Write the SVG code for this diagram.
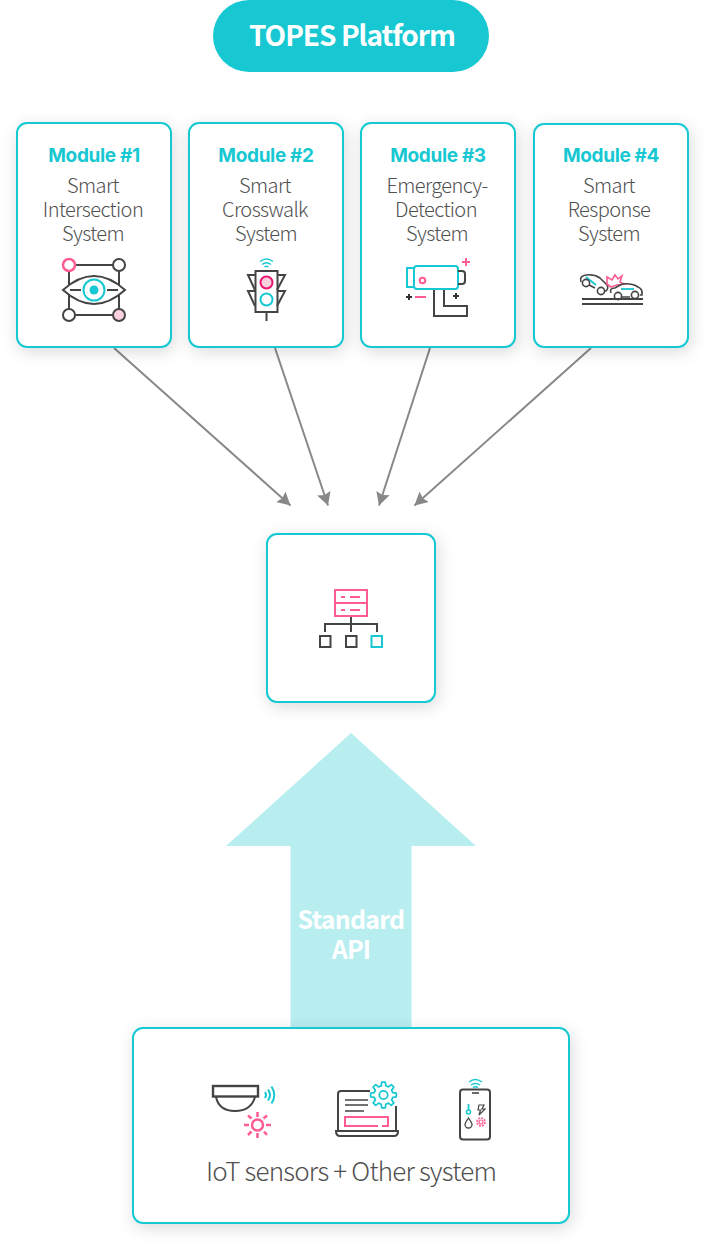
<svg xmlns="http://www.w3.org/2000/svg" width="713" height="1247" viewBox="0 0 713 1247">
<style>
.box{fill:#fff;stroke:#17c8d2;stroke-width:2;filter:url(#sh)}
.t{font-family:"Noto Sans CJK KR","Noto Sans",sans-serif;text-anchor:middle}
.mod{font-family:"Inter","Noto Sans",sans-serif;font-weight:700;font-size:19px;fill:#17c8d2;text-anchor:middle;letter-spacing:-.35px}
.sys{font-family:"Noto Sans CJK KR","Noto Sans",sans-serif;font-weight:300;font-size:20px;fill:#505050;text-anchor:middle;letter-spacing:-.6px}
.d{fill:none;stroke:#444;stroke-width:2}
.c{fill:none;stroke:#17c8d2;stroke-width:2}
.p{fill:none;stroke:#ff5c93;stroke-width:2}
.con{stroke:#888;stroke-width:2;fill:none;marker-end:url(#ah)}
</style>
<defs>
<filter id="sh" x="-20%" y="-20%" width="140%" height="140%"><feDropShadow dx="2" dy="4" stdDeviation="8" flood-color="#000" flood-opacity=".14"/></filter>
<marker id="ah" markerUnits="userSpaceOnUse" markerWidth="16" markerHeight="16" refX="13" refY="7" orient="auto"><path d="M0 0L13 7L0 14L2 7Z" fill="#888"/></marker>
</defs>
<rect width="713" height="1247" fill="#fff"/>
<g id="connectors">
<path class="con" d="M114 348L290.500 505.500"/>
<path class="con" d="M275 348L328 505.500"/>
<path class="con" d="M430 348L379 505.500"/>
<path class="con" d="M591 348L414.500 505.500"/>
</g>
<g id="platform">
<rect x="213" y="0" width="276" height="72" rx="36" fill="#17c8d2"/>
<text class="t" x="352" y="46" font-size="28" font-weight="700" fill="#fff" letter-spacing="-1">TOPES Platform</text>
</g>
<g id="module1">
<rect class="box" x="17" y="123" width="154" height="224" rx="10"/>
<text class="mod" x="94" y="162">Module #1</text>
<text class="sys" x="93" y="193">Smart</text><text class="sys" x="93" y="217">Intersection</text><text class="sys" x="93" y="241">System</text>
<path class="d" d="M75 265H113M119 271V309M113 315H75M69 309V271"/>
<path d="M63 290Q94 262 125 290Q94 318 63 290Z" fill="#fff" stroke="#444" stroke-width="2"/>
<path class="d" d="M70 290H81M107 290H118"/>
<circle cx="94" cy="290" r="10.500" class="c"/><circle cx="94" cy="290" r="4.500" fill="#17c8d2"/>
<circle cx="69" cy="265" r="6" fill="#fff" stroke="#ff5c93" stroke-width="2.500"/>
<circle cx="119" cy="265" r="6" fill="#fff" stroke="#444" stroke-width="2"/>
<circle cx="69" cy="315" r="6" fill="#fff" stroke="#444" stroke-width="2"/>
<circle cx="119" cy="315" r="6" fill="#fbd0de" stroke="#444" stroke-width="2"/>
</g>
<g id="module2">
<rect class="box" x="189" y="123" width="154" height="224" rx="10"/>
<text class="mod" x="266" y="162">Module #2</text>
<text class="sys" x="265" y="193">Smart</text><text class="sys" x="265" y="217">Crosswalk</text><text class="sys" x="266" y="241">System</text>
<path class="d" d="M255 275H248L255 290M255 291H248L255 306M277 275H285L277 290M277 291H285L277 306M266.500 312V321"/>
<rect class="d" x="255.500" y="271" width="22" height="41"/>
<circle cx="266.500" cy="282.500" r="6" fill="#f9cfdd" stroke="#e8156e" stroke-width="2"/>
<circle cx="266.500" cy="299.500" r="6" class="c"/>
<path d="M260 261.500Q266.500 256.500 273 261.500M262 264.500Q266.500 261 271 264.500M264.500 267Q266.500 265.500 268.500 267" fill="none" stroke="#17c8d2" stroke-width="1.400"/>
</g>
<g id="module3">
<rect class="box" x="361" y="123" width="154" height="224" rx="10"/>
<text class="mod" x="438" y="162">Module #3</text>
<text class="sys" x="437" y="193">Emergency-</text><text class="sys" x="436" y="217">Detection</text><text class="sys" x="437" y="241">System</text>
<path class="c" d="M414 268H407V287H414"/>
<rect class="c" x="414" y="266" width="44" height="23" rx="3"/>
<path class="d" d="M458 271H462Q465 271 465 274V281Q465 284 462 284H458"/>
<path class="d" d="M434 290V316H467V306H444V290"/>
<circle cx="422.500" cy="280.500" r="2.800" class="p"/>
<path d="M462 262H470M466 258V266M415 297H426" fill="none" stroke="#ff5c93" stroke-width="2"/>
<path d="M406 297H412M409 294V300M453 296H459M456 293V299" fill="none" stroke="#333" stroke-width="2"/>
</g>
<g id="module4">
<rect class="box" x="534" y="124" width="154" height="223" rx="10"/>
<text class="mod" x="611" y="162">Module #4</text>
<text class="sys" x="609" y="193">Smart</text><text class="sys" x="609" y="217">Response</text><text class="sys" x="609" y="241">System</text>
<path d="M581 282Q579 276 586 275Q594 274 600 278L607 285Q609 288 606 291H601M595 288L585 283" fill="none" stroke="#444" stroke-width="1.600"/>
<path d="M586 277L596 285" fill="none" stroke="#17c8d2" stroke-width="1.800"/>
<path d="M607 284L607 277L612 280L615 275L618 279L622 276L620 282L624 284L617 285L611 287Z" fill="none" stroke="#ff5c93" stroke-width="1.600"/>
<path d="M611 293Q609 288 615 288L622 284Q632 283 638 287Q643 289 642 295H640M630 297H621" fill="none" stroke="#444" stroke-width="1.600"/>
<path d="M621 289H634" fill="none" stroke="#17c8d2" stroke-width="1.800"/>
<circle cx="586" cy="283" r="3.600" fill="#fff" stroke="#444" stroke-width="1.600"/><circle cx="601" cy="291" r="3.600" fill="#fff" stroke="#444" stroke-width="1.600"/>
<circle cx="618" cy="296" r="3.600" fill="#fff" stroke="#444" stroke-width="1.600"/><circle cx="635" cy="295" r="3.600" fill="#fff" stroke="#444" stroke-width="1.600"/>
<path d="M582 299H643" fill="none" stroke="#444" stroke-width="1.800"/><path d="M582 304H643" fill="none" stroke="#444" stroke-width="1.800"/>
</g>
<g id="database">
<rect class="box" x="267" y="534" width="168" height="168" rx="10"/>
<rect class="p" x="335" y="590" width="32" height="26"/>
<path class="p" d="M335 603H367M341 597H345M350 597H360M341 610H345M350 610H360" />
<path class="d" d="M351 617V632M325 632V624H377V632" stroke-width="1.500"/>
<rect class="d" x="320" y="636" width="10.500" height="11"/>
<rect class="d" x="346" y="636" width="10.500" height="11"/>
<rect class="c" x="371.500" y="636" width="10.500" height="11"/>
</g>
<g id="api">
<path d="M351 733L476 846H411.500V1028H290.500V846H226Z" fill="#b8eef0"/>
<text class="t" x="351" y="929" font-size="25" font-weight="700" fill="#fff" letter-spacing="-.8">Standard</text>
<text class="t" x="351" y="959" font-size="25" font-weight="700" fill="#fff" letter-spacing="-.8">API</text>
</g>
<g id="iot">
<rect class="box" x="133" y="1028" width="436" height="195" rx="10"/>
<rect x="213" y="1086" width="45" height="10.500" fill="none" stroke="#444" stroke-width="2.400"/>
<path class="d" d="M216 1097Q219 1111 235 1111Q251 1111 255 1097" stroke-width="2.400"/>
<path d="M265 1092Q267 1095 265 1098M268 1089.500Q272 1095 268 1100.500M271.500 1086.500Q277 1095 271.500 1103.500" fill="none" stroke="#17c8d2" stroke-width="2"/>
<circle cx="257.500" cy="1125" r="5.500" fill="none" stroke="#ff5c93" stroke-width="2.500"/>
<path fill="none" stroke="#ff5c93" stroke-width="2.500" d="M257.500 1112V1117M257.500 1133V1138M244 1125H249M266 1125H271M248 1115.500L251.500 1118.500M264 1131.500L267 1135M267 1115.500L263.500 1118.500M251.500 1131.500L248 1135"/>
<path class="d" d="M370 1091H341Q338 1091 338 1094V1130M396 1106V1130" stroke-width="1.700"/>
<path d="M345 1100H368M345 1105H368M345 1111H364" fill="none" stroke="#444" stroke-width="1.700"/>
<path d="M378 1126H345V1117H388V1126H382" fill="none" stroke="#ff5c93" stroke-width="2"/>
<path d="M336 1131H398Q398 1136 394 1136H340Q336 1136 336 1131Z" fill="none" stroke="#444" stroke-width="2"/>
<circle cx="383.500" cy="1095" r="4.200" fill="none" stroke="#17c8d2" stroke-width="1.800"/>
<path transform="translate(383.500 1095) scale(1.080)" fill="none" stroke="#17c8d2" stroke-width="1.600" stroke-linejoin="round" d="M1.670 -11.880L2.130 -8.540L4.530 -7.540L7.220 -9.580L9.580 -7.220L7.540 -4.530L8.540 -2.130L11.880 -1.670V1.670L8.540 2.130L7.540 4.530L9.580 7.220L7.220 9.580L4.530 7.540L2.130 8.540L1.670 11.880H-1.670L-2.130 8.540L-4.530 7.540L-7.220 9.580L-9.580 7.220L-7.540 4.530L-8.540 2.130L-11.880 1.670V-1.670L-8.540 -2.130L-7.540 -4.530L-9.580 -7.220L-7.220 -9.580L-4.530 -7.540L-2.130 -8.540L-1.670 -11.880Z"/>
<rect x="460" y="1089.500" width="30" height="50" rx="3" fill="none" stroke="#444" stroke-width="2"/>
<path d="M472 1093H479" stroke="#444" stroke-width="1.600" fill="none"/>
<path d="M469 1082Q475 1077 482 1082M471 1085Q475 1082 480 1085M473 1087.500Q475 1086 478 1087.500" fill="none" stroke="#17c8d2" stroke-width="1.400"/>
<path d="M468.500 1104V1110" stroke="#17c8d2" stroke-width="1.800" fill="none"/><circle cx="468.500" cy="1112" r="2" fill="none" stroke="#17c8d2" stroke-width="1.500"/>
<path d="M479 1105H484L482 1109H485L479 1115L480.500 1110H478Z" fill="none" stroke="#444" stroke-width="1.200"/>
<path d="M468.500 1118Q472 1123 472 1124.500A3.500 3.500 0 0 1 465 1124.500Q465 1123 468.500 1118Z" fill="none" stroke="#444" stroke-width="1.300"/>
<circle cx="481" cy="1122" r="2" fill="none" stroke="#ff5c93" stroke-width="1.200"/><circle cx="481" cy="1122" r="4" fill="none" stroke="#ff5c93" stroke-width="1.600" stroke-dasharray="2 1.100"/>
<text class="sys" x="351" y="1181" style="font-size:26px;letter-spacing:-.8px">IoT sensors + Other system</text>
</g>
</svg>
